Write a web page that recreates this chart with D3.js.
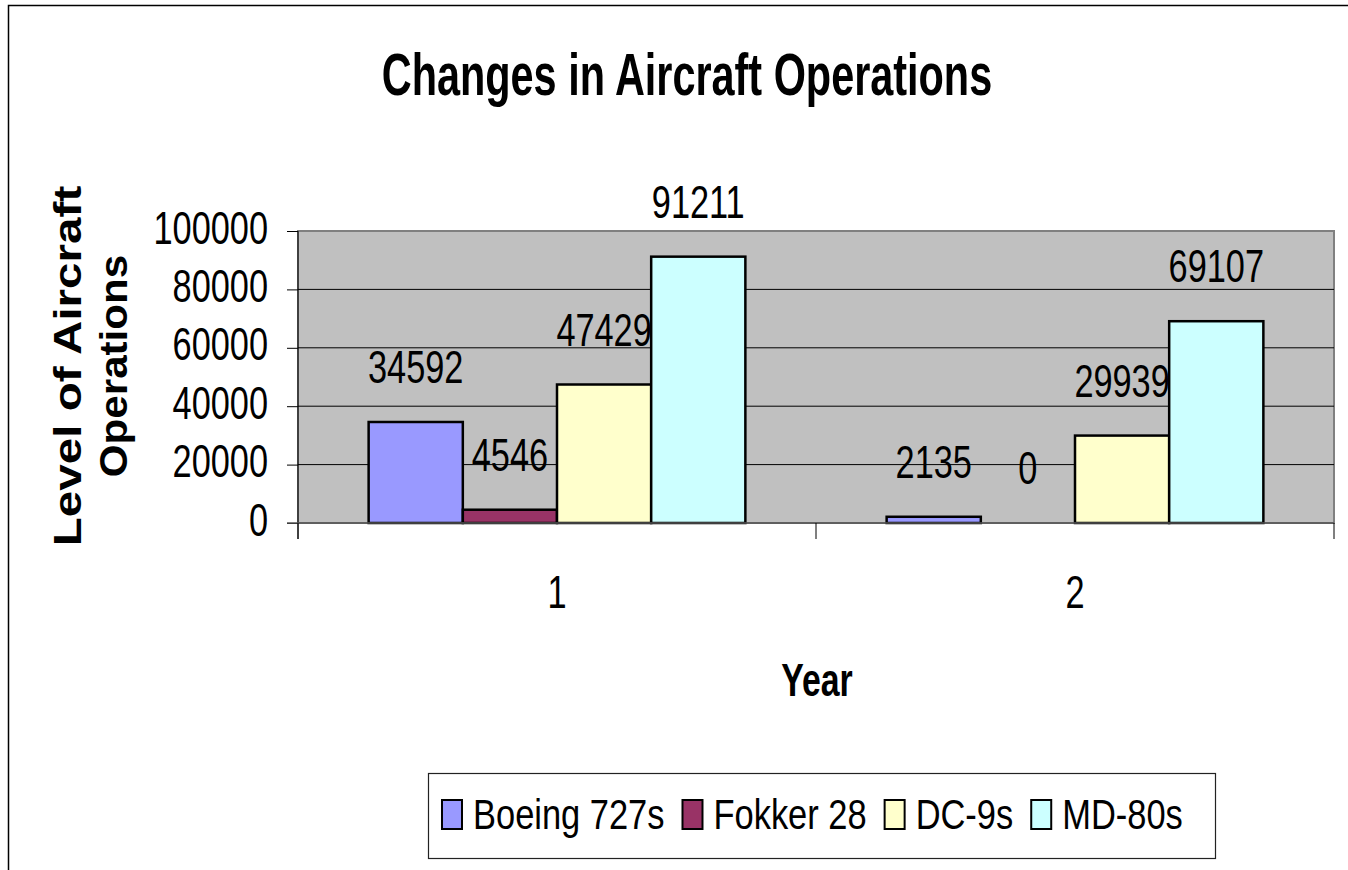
<!DOCTYPE html>
<html><head><meta charset="utf-8">
<script src="https://cdn.jsdelivr.net/npm/d3@7"></script>
<style>html,body{margin:0;padding:0;background:#fff;} svg{display:block;font-family:"Liberation Sans",Arial,sans-serif;}</style>
</head><body>
<svg id="chart" width="1348" height="870"></svg>
<script>
const categories = ["1", "2"];
const seriesNames = ["Boeing 727s", "Fokker 28", "DC-9s", "MD-80s"];
const boeing727 = [34592, 2135];
const fokker28 = [4546, 0];
const dc9 = [47429, 29939];
const md80 = [91211, 69107];
const yTickValues = [0, 20000, 40000, 60000, 80000, 100000];
const seriesColors = ["#9999FF", "#993366", "#FFFFCC", "#CCFFFF"];
const titleText = "Changes in Aircraft Operations";
const xTitleText = "Year";
const yTitleLines = ["Level of Aircraft", "Operations"];

const seriesValues = [boeing727, fokker28, dc9, md80];
const svg = d3.select("#chart");

function condense(sel, k) {
  let total = 0;
  sel.each(function () {
    const w = this.getComputedTextLength();
    total = w * k;
    d3.select(this).attr("textLength", w * k).attr("lengthAdjust", "spacingAndGlyphs");
  });
  return total;
}

// outer border
svg.append("rect").attr("x", 8.5).attr("y", 5.5).attr("width", 1400).attr("height", 900)
  .attr("fill", "#fff").attr("stroke", "#000").attr("stroke-width", 1.5);

const plot = { left: 298, right: 1334, top: 231, bottom: 523 };

const x0 = d3.scaleBand().domain(categories).range([plot.left, plot.right]).padding(0);
const bw = x0.bandwidth();
const x1 = d3.scaleBand().domain(seriesNames).range([bw * 0.75 / 5.5, bw * 4.75 / 5.5]).padding(0);
const y = d3.scaleLinear().domain([0, 100000]).range([plot.bottom, plot.top]);

// plot background
svg.append("rect").attr("x", plot.left).attr("y", plot.top)
  .attr("width", plot.right - plot.left).attr("height", plot.bottom - plot.top)
  .attr("fill", "#C0C0C0").attr("stroke", "#808080").attr("stroke-width", 2);

// gridlines
svg.append("g").selectAll("line").data(yTickValues.filter(v => v > 0 && v < 100000)).join("line")
  .attr("x1", plot.left).attr("x2", plot.right)
  .attr("y1", d => y(d)).attr("y2", d => y(d))
  .attr("stroke", "#000").attr("stroke-width", 1);

// bars
const data = [];
categories.forEach((c, i) => seriesNames.forEach((s, j) => data.push({ cat: c, s, j, v: seriesValues[j][i] })));

svg.append("g").selectAll("rect").data(data.filter(d => d.v > 0)).join("rect")
  .attr("x", d => x0(d.cat) + x1(d.s))
  .attr("y", d => y(d.v))
  .attr("width", x1.bandwidth())
  .attr("height", d => y(0) - y(d.v))
  .attr("fill", d => seriesColors[d.j])
  .attr("stroke", "#000").attr("stroke-width", 2.5);

// y axis
const yAxis = svg.append("g").attr("transform", `translate(${plot.left},0)`)
  .call(d3.axisLeft(y).tickValues(yTickValues).tickSize(11).tickPadding(19).tickFormat(d3.format("d")));
yAxis.select(".domain").remove();
yAxis.selectAll(".tick line").attr("stroke", "#000");
yAxis.selectAll(".tick text").attr("font-size", 47).attr("fill", "#000")
  .attr("font-family", "Liberation Sans, Arial, sans-serif").attr("dy", 12);
yAxis.selectAll(".tick text").each(function () { condense(d3.select(this), 0.73); });
svg.append("line").attr("x1", plot.left).attr("x2", plot.left).attr("y1", plot.top).attr("y2", plot.bottom + 16)
  .attr("stroke", "#000").attr("stroke-width", 1);

// x axis
svg.append("line").attr("x1", plot.left - 11).attr("x2", plot.right).attr("y1", plot.bottom).attr("y2", plot.bottom)
  .attr("stroke", "#555").attr("stroke-width", 1.5);
const xTickPos = [plot.left, ...categories.map(c => x0(c) + bw)];
svg.append("g").selectAll("line").data(xTickPos).join("line")
  .attr("x1", d => d).attr("x2", d => d).attr("y1", plot.bottom).attr("y2", plot.bottom + 16)
  .attr("stroke", "#000").attr("stroke-width", 1);
const xl = svg.append("g").selectAll("text").data(categories).join("text")
  .attr("x", d => x0(d) + bw / 2).attr("y", 608).attr("text-anchor", "middle")
  .attr("font-size", 47).text(d => d);
xl.each(function () { condense(d3.select(this), 0.73); });

// value labels
const vl = svg.append("g").selectAll("text").data(data).join("text")
  .attr("x", d => x0(d.cat) + x1(d.s) + x1.bandwidth() / 2)
  .attr("y", d => y(d.v) - 39)
  .attr("text-anchor", "middle").attr("font-size", 47).text(d => d.v);
vl.each(function () { condense(d3.select(this), 0.73); });

// title
const t = svg.append("text").attr("x", 687).attr("y", 95).attr("text-anchor", "middle")
  .attr("font-size", 60).attr("font-weight", "bold").text(titleText);
condense(t, 0.69);

// x title
const xt = svg.append("text").attr("x", 817).attr("y", 696).attr("text-anchor", "middle")
  .attr("font-size", 47).attr("font-weight", "bold").text(xTitleText);
condense(xt, 0.72);

// y title
const yTitleStretch = [1.22, 1.08];
const yt = svg.append("g").attr("transform", "translate(0,366) rotate(-90)");
yTitleLines.forEach((line, i) => {
  const tt = yt.append("text").attr("x", 0).attr("y", 81 + i * 46).attr("text-anchor", "middle")
    .attr("font-size", 39).attr("font-weight", "bold").text(line);
  condense(tt, yTitleStretch[i]);
});

// legend
svg.append("rect").attr("x", 428.5).attr("y", 773.5).attr("width", 787).attr("height", 85)
  .attr("fill", "#fff").attr("stroke", "#222").attr("stroke-width", 1.2);
let lx = 442;
seriesNames.forEach((s, j) => {
  svg.append("rect").attr("x", lx).attr("y", 800).attr("width", 20).attr("height", 29)
    .attr("fill", seriesColors[j]).attr("stroke", "#000").attr("stroke-width", 2);
  const lt = svg.append("text").attr("x", lx + 31).attr("y", 829).attr("font-size", 42).text(s);
  const w = condense(lt, 0.82);
  lx = lx + 31 + w + 18;
});
</script>
</body></html>
